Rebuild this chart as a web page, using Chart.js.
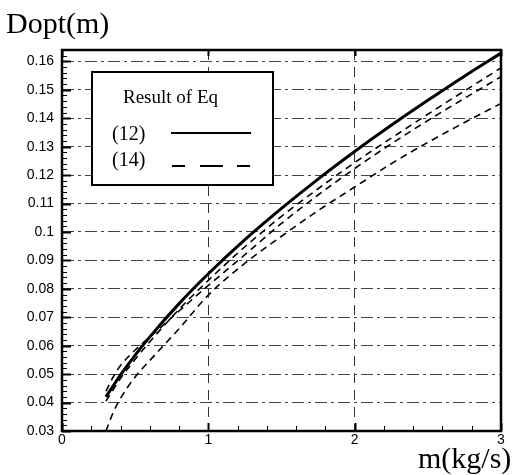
<!DOCTYPE html>
<html>
<head>
<meta charset="utf-8">
<script src="https://cdn.jsdelivr.net/npm/chart.js@4.4.1/dist/chart.umd.min.js"></script>
<style>
html, body { margin: 0; padding: 0; background: #fff; }
#wrap { width: 514px; height: 475px; position: relative; }
</style>
</head>
<body>
<div id="wrap"><canvas id="chart"></canvas></div>
<script>
// mass flow m (kg/s)
const flowRates = [0.3, 0.35, 0.4, 0.5, 0.6, 0.8, 1.0, 1.25, 1.5, 1.75, 2.0, 2.25, 2.5, 2.75, 3.0];

// optimum diameter Dopt (m), result of Eq (12)
const dOptEq12 = [0.0420, 0.0459, 0.0497, 0.0567, 0.0631, 0.0748, 0.0853, 0.0973, 0.1083, 0.1186, 0.1283, 0.1375, 0.1463, 0.1548, 0.1629];

// result of Eq (14), three cases
const dOptEq14a = [0.0405, 0.0445, 0.0485, 0.0552, 0.0614, 0.0728, 0.0830, 0.0948, 0.1055, 0.1152, 0.1244, 0.1330, 0.1414, 0.1496, 0.1577];
const dOptEq14b = [0.0440, 0.0490, 0.0530, 0.0585, 0.0630, 0.0722, 0.0812, 0.0920, 0.1030, 0.1130, 0.1223, 0.1310, 0.1392, 0.1470, 0.1546];
const dOptEq14c = [0.0300, 0.0365, 0.0415, 0.0490, 0.0548, 0.0660, 0.0778, 0.0890, 0.0985, 0.1075, 0.1158, 0.1240, 0.1315, 0.1385, 0.1452];

const xTicks = [0, 1, 2, 3];
const yTicks = [0.03, 0.04, 0.05, 0.06, 0.07, 0.08, 0.09, 0.10, 0.11, 0.12, 0.13, 0.14, 0.15, 0.16];

const toPoints = (ys) => flowRates.map((x, i) => ({ x, y: ys[i] }));

const dashedSet = (ys) => ({
    data: toPoints(ys),
    borderColor: '#000',
    borderWidth: 1.6,
    borderDash: [7, 5],
    pointRadius: 0,
    cubicInterpolationMode: 'monotone',
    fill: false
});

const frameAndLabels = {
    id: 'frameAndLabels',
    afterDatasetsDraw(chart) {
        const { ctx, chartArea: a, scales: { x, y } } = chart;
        ctx.save();
        ctx.strokeStyle = '#000';
        ctx.setLineDash([]);

        // inward minor / major ticks on left axis
        for (let v = 0.03; v <= 0.1645; v += 0.002) {
            const py = Math.round(y.getPixelForValue(v)) + 0.5;
            const major = Math.abs(v * 100 - Math.round(v * 100)) < 1e-6;
            ctx.lineWidth = major ? 2 : 1;
            ctx.beginPath();
            ctx.moveTo(a.left, py);
            ctx.lineTo(a.left + (major ? 9 : 5), py);
            ctx.stroke();
        }

        // inward ticks on bottom axis, major ones on top too
        for (let v = 0; v <= 3.001; v += 0.2) {
            const px = Math.round(x.getPixelForValue(v)) + 0.5;
            const major = Math.abs(v - Math.round(v)) < 1e-6;
            ctx.lineWidth = major ? 2 : 1;
            ctx.beginPath();
            ctx.moveTo(px, a.bottom);
            ctx.lineTo(px, a.bottom - (major ? 8 : 5));
            ctx.stroke();
            if (major) {
                ctx.beginPath();
                ctx.moveTo(px, a.top);
                ctx.lineTo(px, a.top + 6);
                ctx.stroke();
            }
        }

        // plot frame
        ctx.lineWidth = 2.5;
        ctx.strokeRect(a.left, a.top, a.right - a.left, a.bottom - a.top);

        // legend box
        ctx.fillStyle = '#fff';
        ctx.fillRect(92, 72, 181, 113);
        ctx.lineWidth = 2;
        ctx.strokeRect(92, 72, 181, 113);

        ctx.fillStyle = '#000';
        ctx.textBaseline = 'alphabetic';
        ctx.textAlign = 'left';
        ctx.font = '19px "Liberation Serif"';
        ctx.fillText('Result of Eq', 123, 103);
        ctx.font = '20px "Liberation Serif"';
        ctx.fillText('(12)', 112, 140);
        ctx.fillText('(14)', 112, 166);

        ctx.lineWidth = 2;
        ctx.beginPath();
        ctx.moveTo(171, 133);
        ctx.lineTo(251, 133);
        ctx.stroke();

        ctx.setLineDash([13, 15, 23, 14, 13]);
        ctx.beginPath();
        ctx.moveTo(172, 166);
        ctx.lineTo(251, 166);
        ctx.stroke();
        ctx.setLineDash([]);

        // axis titles
        ctx.font = '30px "Liberation Serif"';
        ctx.fillText('Dopt(m)', 6, 33);
        ctx.fillText('m(kg/s)', 418, 468);
        ctx.restore();
    }
};

new Chart(document.getElementById('chart'), {
    type: 'line',
    data: {
        datasets: [
            {
                data: toPoints(dOptEq12),
                borderColor: '#000',
                borderWidth: 3,
                pointRadius: 0,
                cubicInterpolationMode: 'monotone',
                fill: false
            },
            dashedSet(dOptEq14a),
            dashedSet(dOptEq14b),
            dashedSet(dOptEq14c)
        ]
    },
    options: {
        responsive: true,
        maintainAspectRatio: false,
        animation: false,
        devicePixelRatio: 1,
        layout: { padding: { top: 50, right: 13, left: 0, bottom: 0 } },
        plugins: {
            legend: { display: false },
            tooltip: { enabled: false }
        },
        scales: {
            x: {
                type: 'linear',
                min: 0,
                max: 3,
                afterFit: (s) => { s.height = 44; },
                afterBuildTicks: (s) => { s.ticks = xTicks.map(v => ({ value: v })); },
                ticks: {
                    color: '#000',
                    padding: 1,
                    maxRotation: 0,
                    font: { family: '"Liberation Sans"', size: 14 },
                    callback: (v) => String(v)
                },
                grid: {
                    drawTicks: false,
                    lineWidth: 1,
                    color: (c) => (c.tick && (c.tick.value === 1 || c.tick.value === 2)) ? '#333' : 'transparent'
                },
                border: { display: false, dash: [10, 7] }
            },
            y: {
                type: 'linear',
                min: 0.03,
                max: 0.164,
                afterFit: (s) => { s.width = 62; },
                afterBuildTicks: (s) => { s.ticks = yTicks.map(v => ({ value: v })); },
                ticks: {
                    color: '#000',
                    padding: 8,
                    font: { family: '"Liberation Sans"', size: 14 },
                    callback: (v) => String(Number(v.toFixed(2)))
                },
                grid: {
                    drawTicks: false,
                    lineWidth: 1,
                    color: (c) => (c.tick && c.tick.value > 0.031) ? '#444' : 'transparent'
                },
                border: { display: false, dash: [12, 4, 3, 4] }
            }
        }
    },
    plugins: [frameAndLabels]
});
</script>
</body>
</html>
